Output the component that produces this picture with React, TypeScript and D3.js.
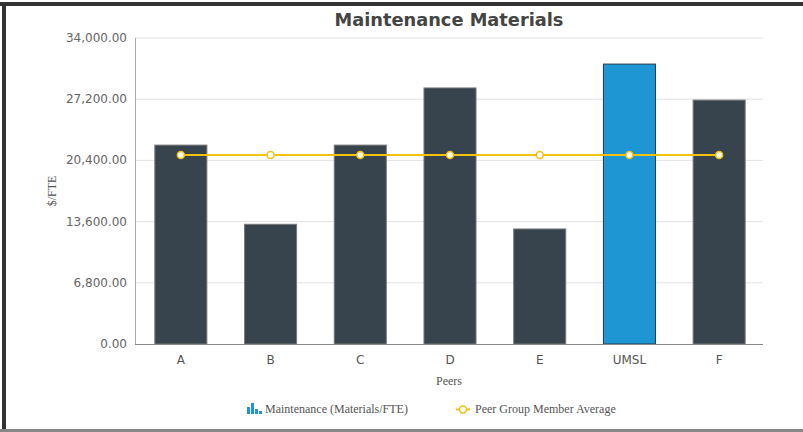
import React from "react";
import * as d3 from "d3";

const categories = ["A", "B", "C", "D", "E", "UMSL", "F"];
const barValues = [22100, 13300, 22100, 28450, 12780, 31100, 27100];
const avgValues = [21000, 21000, 21000, 21000, 21000, 21000, 21000];
const yTicks = [0, 6800, 13600, 20400, 27200, 34000];
const highlight = "UMSL";

const W = 803, H = 432;
const M = { left: 135, right: 763, top: 38, bottom: 344 };

export default function App() {
  const x = d3.scaleBand().domain(categories).range([M.left + 1, M.right + 1]).paddingInner(0.42).paddingOuter(0.21);
  const y = d3.scaleLinear().domain([0, 34000]).range([M.bottom, M.top]);
  const fmt = d3.format(",.2f");
  const line = d3.line<number>()
    .x((_, i) => (x(categories[i]) as number) + x.bandwidth() / 2)
    .y((d) => y(d));
  const sans = "DejaVu Sans, Verdana, sans-serif";
  const serif = "Liberation Serif, Times New Roman, serif";
  return (
    <svg width={W} height={H} style={{ position: "absolute", left: 0, top: 0, background: "#fff" }}>
      <rect x={0} y={0} width={W} height={H} fill="#fff" />
      <rect x={0} y={2} width={W} height={4} fill="#333" />
      <rect x={2} y={2} width={4} height={H - 2} fill="#333" />
      <rect x={0} y={429} width={W} height={3} fill="#888" />
      <text x={449} y={26} textAnchor="middle" fontFamily={sans} fontWeight="bold" fontSize={17.8} fill="#444">Maintenance Materials</text>
      {yTicks.map((t) => (
        <g key={t}>
          {t > 0 && <line x1={M.left} x2={M.right} y1={y(t)} y2={y(t)} stroke="#e3e3e3" strokeWidth={1} />}
          <text x={127} y={y(t) + 4} textAnchor="end" fontFamily={sans} fontSize={12} fill="#666">{fmt(t)}</text>
        </g>
      ))}
      {categories.map((c, i) => (
        <rect key={c} x={x(c)} y={y(barValues[i])} width={x.bandwidth()} height={M.bottom - y(barValues[i])}
          fill={c === highlight ? "#1e96d4" : "#37444d"} stroke={c === highlight ? "#1c3d52" : "#777"} strokeWidth={1} />
      ))}
      <line x1={M.left + 0.5} x2={M.left + 0.5} y1={M.top} y2={M.bottom} stroke="#aaa" />
      <line x1={M.left} x2={M.right} y1={M.bottom + 0.5} y2={M.bottom + 0.5} stroke="#888" />
      {categories.map((c) => (
        <text key={c} x={(x(c) as number) + x.bandwidth() / 2} y={364} textAnchor="middle" fontFamily={sans} fontSize={12} fill="#555">{c}</text>
      ))}
      <path d={line(avgValues) || ""} fill="none" stroke="#f4c20d" strokeWidth={2} />
      {avgValues.map((v, i) => (
        <circle key={i} cx={(x(categories[i]) as number) + x.bandwidth() / 2} cy={y(v)} r={3.5} fill="#fff" stroke="#f4c20d" strokeWidth={1.5} />
      ))}
      <text x={449} y={385} textAnchor="middle" fontFamily={serif} fontSize={12} fill="#555">Peers</text>
      <text transform={`translate(56,191) rotate(-90)`} textAnchor="middle" fontFamily={serif} fontSize={12} fill="#555">$/FTE</text>
      <g>
        <rect x={247} y={407} width={3} height={7} fill="#1e96d4" />
        <rect x={251} y={403} width={3} height={11} fill="#1e96d4" />
        <rect x={255} y={409} width={3} height={5} fill="#1e96d4" />
        <rect x={259} y={411} width={3} height={3} fill="#1e96d4" />
        <text x={265} y={413} fontFamily={serif} fontSize={12} fill="#555">Maintenance (Materials/FTE)</text>
        <line x1={456} x2={470} y1={409.5} y2={409.5} stroke="#f4c20d" strokeWidth={2} />
        <circle cx={463} cy={409.5} r={3.5} fill="#fff" stroke="#f4c20d" strokeWidth={1.5} />
        <text x={475} y={413} fontFamily={serif} fontSize={12} fill="#555">Peer Group Member Average</text>
      </g>
    </svg>
  );
}
